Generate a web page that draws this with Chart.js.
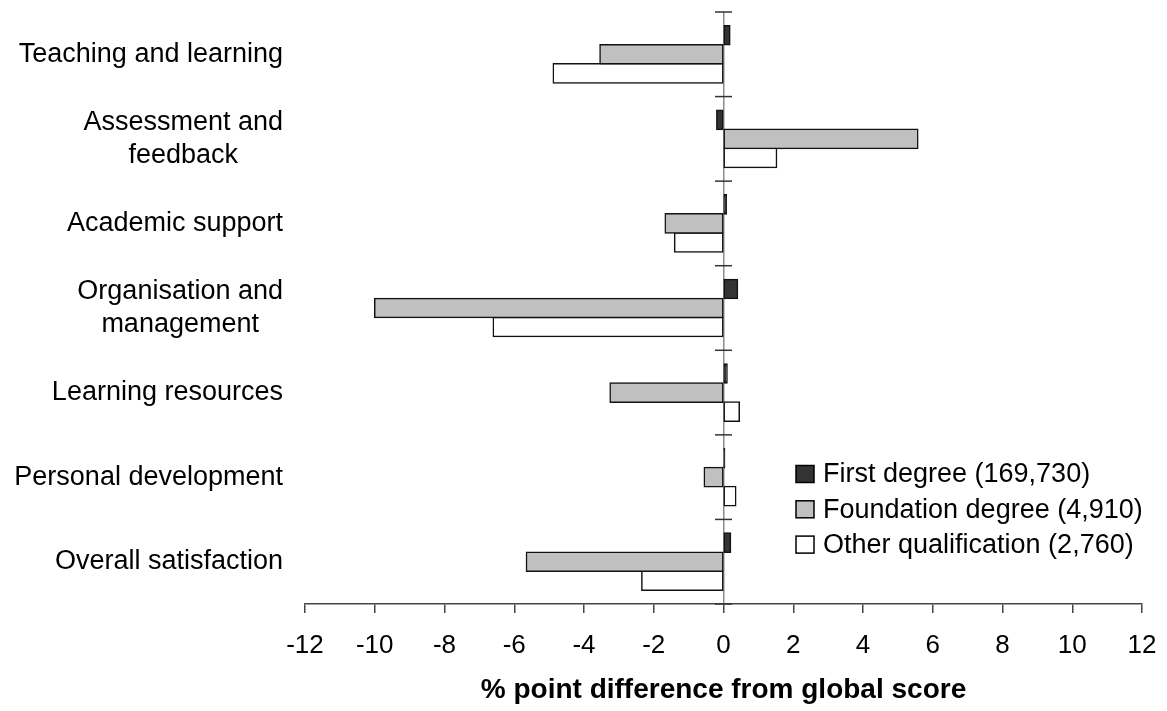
<!DOCTYPE html>
<html>
<head>
<meta charset="utf-8">
<script src="https://cdn.jsdelivr.net/npm/chart.js@4/dist/chart.umd.min.js"></script>
<style>
  html, body { margin: 0; padding: 0; background: #fff; }
  #wrap { width: 1167px; height: 711px; }
</style>
</head>
<body>
<div id="wrap"><canvas id="myChart" width="1167" height="711"></canvas></div>
<script>
const categories = [
  'Teaching and learning',
  ['Assessment and', 'feedback'],
  'Academic support',
  ['Organisation and', 'management'],
  'Learning resources',
  'Personal development',
  'Overall satisfaction'
];
const seriesNames = ['First degree (169,730)', 'Foundation degree (4,910)', 'Other qualification (2,760)'];
const firstDegree = [0.18, -0.19, 0.08, 0.4, 0.1, 0.03, 0.2];
const foundationDegree = [-3.54, 5.57, -1.67, -10.0, -3.25, -0.55, -5.65];
const otherQualification = [-4.88, 1.52, -1.4, -6.6, 0.45, 0.35, -2.34];
const xTicks = [-12, -10, -8, -6, -4, -2, 0, 2, 4, 6, 8, 10, 12];
const xTitle = '% point difference from global score';

const FONT = '"Liberation Sans", Arial, sans-serif';
const colors = ['#333333', '#c0c0c0', '#ffffff'];

// category names at the left, each block right aligned, lines centred
const leftLabels = {
  id: 'leftLabels',
  afterDraw(chart) {
    const ctx = chart.ctx;
    const y = chart.scales.y;
    const right = chart.chartArea.left - 22;
    ctx.save();
    ctx.font = '27px ' + FONT;
    ctx.fillStyle = '#000';
    ctx.textAlign = 'center';
    ctx.textBaseline = 'middle';
    categories.forEach((lab, i) => {
      const lines = Array.isArray(lab) ? lab : [lab];
      let w = 0;
      lines.forEach(l => { w = Math.max(w, ctx.measureText(l).width); });
      const cy = y.getPixelForValue(i);
      const lh = 33;
      const y0 = cy - (lines.length - 1) * lh / 2;
      lines.forEach((l, j) => ctx.fillText(l, right - w / 2, y0 + j * lh));
    });
    ctx.restore();
  }
};

// small cross ticks on the zero line between categories
const zeroTicks = {
  id: 'zeroTicks',
  afterDatasetsDraw(chart) {
    const ctx = chart.ctx;
    const x0 = chart.scales.x.getPixelForValue(0);
    const y = chart.scales.y;
    ctx.save();
    ctx.strokeStyle = '#333';
    ctx.lineWidth = 1.5;
    for (let i = 0; i <= categories.length; i++) {
      const py = y.getPixelForValue(i - 0.5);
      ctx.beginPath();
      ctx.moveTo(x0 - 8.5, py);
      ctx.lineTo(x0 + 8.5, py);
      ctx.stroke();
    }
    ctx.restore();
  }
};

const boxLegend = {
  id: 'boxLegend',
  afterDraw(chart) {
    const ctx = chart.ctx;
    const a = chart.chartArea;
    const bx = a.right - 346;
    const by = a.bottom - 130;
    ctx.save();
    ctx.font = '27px ' + FONT;
    ctx.textBaseline = 'middle';
    ctx.textAlign = 'left';
    chart.data.datasets.forEach((ds, i) => {
      const cy = by + i * 35.3;
      ctx.fillStyle = ds.backgroundColor;
      ctx.fillRect(bx, cy - 8.5, 18, 17);
      ctx.strokeStyle = '#000';
      ctx.lineWidth = 1.5;
      ctx.strokeRect(bx, cy - 8.5, 18, 17);
      ctx.fillStyle = '#000';
      ctx.fillText(ds.label, bx + 27, cy + 1);
    });
    ctx.restore();
  }
};

const ctx = document.getElementById('myChart');
const series = [firstDegree, foundationDegree, otherQualification];

const myChart = new Chart(ctx, {
  type: 'bar',
  data: {
    labels: categories,
    datasets: series.map((d, i) => ({
      label: seriesNames[i],
      data: d,
      backgroundColor: colors[i],
      borderColor: '#111',
      borderWidth: 1.5,
      borderSkipped: false,
      inflateAmount: 0.8,
      categoryPercentage: 0.675,
      barPercentage: 1
    }))
  },
  options: {
    indexAxis: 'y',
    responsive: false,
    animation: false,
    layout: { padding: { left: 305, right: 25, top: 12, bottom: 0 } },
    plugins: {
      legend: { display: false },
      tooltip: { enabled: false }
    },
    scales: {
      x: {
        min: xTicks[0],
        max: xTicks[xTicks.length - 1],
        ticks: {
          stepSize: 2,
          color: '#000',
          font: { family: FONT, size: 26 },
          padding: 17,
          callback: v => String(v)
        },
        grid: {
          drawOnChartArea: true,
          color: c => (c.tick && c.tick.value === 0 ? '#8c8c8c' : 'rgba(0,0,0,0)'),
          lineWidth: 1.5,
          tickColor: '#444',
          tickLength: 9,
          tickWidth: 1.5
        },
        border: { color: '#444', width: 1.5 },
        title: {
          display: true,
          text: xTitle,
          color: '#000',
          font: { family: FONT, size: 28, weight: 'bold' },
          padding: { top: 10, bottom: 4 }
        },
        afterFit: s => {
          s.height = 107;
          s.paddingLeft = 0;
          s.paddingRight = 0;
        }
      },
      y: {
        type: 'category',
        display: false
      }
    }
  },
  plugins: [leftLabels, zeroTicks, boxLegend]
});
</script>
</body>
</html>
